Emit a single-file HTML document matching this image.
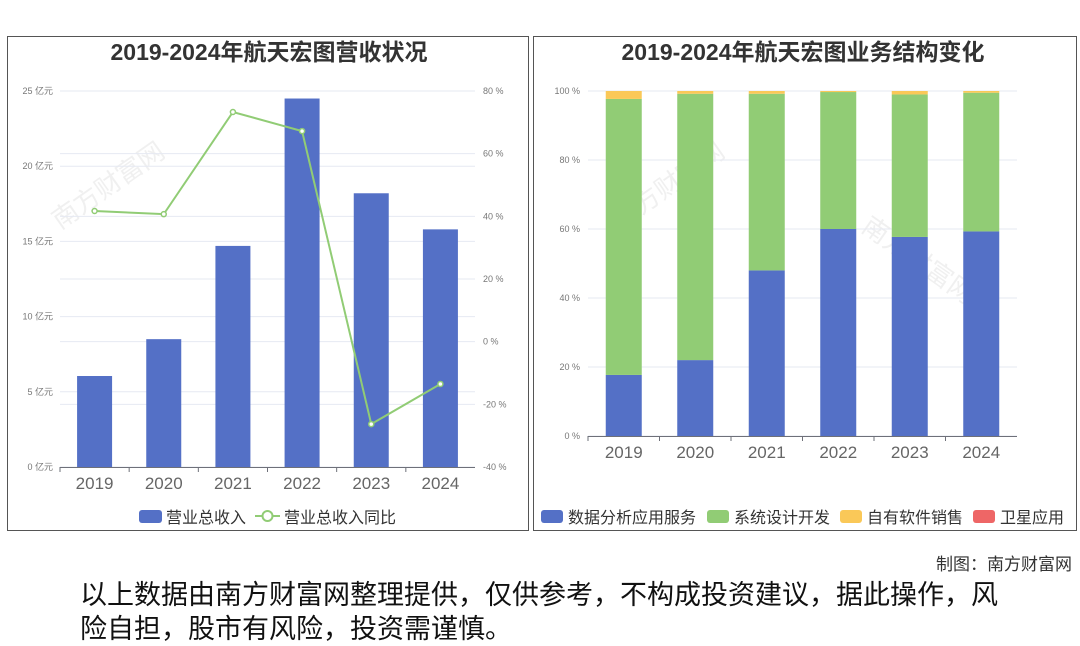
<!DOCTYPE html>
<html><head><meta charset="utf-8"><style>
html,body{margin:0;padding:0;background:#fff;width:1080px;height:646px;overflow:hidden;font-family:"Liberation Sans","Noto Sans CJK SC",sans-serif}
svg{position:absolute;left:0;top:0}
.disc{position:absolute;left:80px;width:960px;top:578px;text-align:left;font-size:27px;line-height:34px;color:#111}
.credit{position:absolute;right:8px;top:550px;font-size:17px;color:#333}
</style></head><body>
<svg id="s" width="1080" height="646"></svg>
<div class="credit">制图：南方财富网</div>
<div class="disc">以上数据由南方财富网整理提供，仅供参考，不构成投资建议，据此操作，风<br>险自担，股市有风险，投资需谨慎。</div>
<script>
const years=['2019','2020','2021','2022','2023','2024'];
const revenue=[6.05,8.5,14.7,24.5,18.2,15.8];
const growth=[41.7,40.7,73.3,67.2,-26.3,-13.5];
const revTicks=[0,5,10,15,20,25];
const pctTicks=[-40,-20,0,20,40,60,80];
const dataSvc=[17.7,22,48,60,57.7,59.3];
const sysDev=[80,77.2,51.2,39.7,41.3,40.2];
const software=[2.3,0.8,0.8,0.3,1,0.5];
const satellite=[0,0,0,0,0,0];
const shareTicks=[0,20,40,60,80,100];

const S=document.getElementById('s');const NS='http://www.w3.org/2000/svg';
function el(t,a,p){const e=document.createElementNS(NS,t);for(const k in a)e.setAttribute(k,a[k]);(p||S).appendChild(e);return e;}
function tx(x,y,s,a,p){const e=el('text',Object.assign({x:x,y:y},a),p);e.textContent=s;return e;}
const F='"Liberation Sans","Noto Sans CJK SC",sans-serif';
const BLUE='#5470c6',GREEN='#91cc75',YEL='#fac858',RED='#ee6666';

let r=el('rect',{x:7.5,y:36.5,width:521,height:494,fill:'none',stroke:'#555'});

r=el('rect',{x:533.5,y:36.5,width:543,height:494,fill:'none',stroke:'#555'});


// faint watermarks
[[60,230,-35],[620,230,-35],[860,230,35]].forEach(([x,y,a])=>{let w=tx(x,y,'南方财富网',{'font-size':26,fill:'#ccc','fill-opacity':0.3,transform:'rotate('+a+' '+x+' '+y+')','font-family':F});});

// ---- left chart
const L={x0:60,x1:475,y0:467,y1:91};
const band=(L.x1-L.x0)/years.length;
const xc=i=>L.x0+band*(i+0.5);
const yRev=v=>L.y0-(v/25)*(L.y0-L.y1);
const yPct=v=>L.y0-((v+40)/120)*(L.y0-L.y1);
let t=tx(269,60,'2019-2024年航天宏图营收状况',{'text-anchor':'middle','font-size':23,'font-weight':'bold',fill:'#333','font-family':F});

revTicks.forEach(v=>{const y=yRev(v);
 let g=el('line',{x1:L.x0,x2:L.x1,y1:y,y2:y,stroke:'#e6e9f2'});
 let l=tx(53,y+3,v+' 亿元',{'text-anchor':'end','font-size':9,fill:'#777','font-family':F});});
pctTicks.forEach(v=>{const y=yPct(v);
 if(v>-40){let g=el('line',{x1:L.x0,x2:L.x1,y1:y,y2:y,stroke:'#e6e9f2'});}
 let l=tx(483,y+3,v+' %',{'font-size':9,fill:'#777','font-family':F});});
revenue.forEach((v,i)=>{const bw=35;
 let b=el('rect',{x:xc(i)-bw/2,y:yRev(v),width:bw,height:L.y0-yRev(v),fill:BLUE});
 });
let ax=el('line',{x1:L.x0,x2:L.x1,y1:L.y0+0.5,y2:L.y0+0.5,stroke:'#6e7079'});
years.forEach((y,i)=>{let tk=el('line',{x1:L.x0+band*i,x2:L.x0+band*i,y1:L.y0,y2:L.y0+5,stroke:'#6e7079'});
 let l=tx(xc(i),489,y,{'text-anchor':'middle','font-size':17,fill:'#666','font-family':F});});
let pl=el('polyline',{points:growth.map((v,i)=>xc(i)+','+yPct(v)).join(' '),fill:'none',stroke:GREEN,'stroke-width':2});

growth.forEach((v,i)=>{let c=el('circle',{cx:xc(i),cy:yPct(v),r:2.5,fill:'#fff',stroke:GREEN,'stroke-width':1.5});});
let lg=el('rect',{x:139,y:510,width:23,height:13,rx:3,fill:BLUE});
t=tx(166,523,'营业总收入',{'font-size':16,fill:'#333','font-family':F});
let ll=el('line',{x1:255,x2:280,y1:516,y2:516,stroke:GREEN,'stroke-width':2});
let lc=el('circle',{cx:267.5,cy:516,r:5,fill:'#fff',stroke:GREEN,'stroke-width':2});
t=tx(284,523,'营业总收入同比',{'font-size':16,fill:'#333','font-family':F});

// ---- right chart
const R={x0:588,x1:1017,y0:436,y1:91};
const band2=(R.x1-R.x0)/years.length;
const xc2=i=>R.x0+band2*(i+0.5);
const yS=v=>R.y0-(v/100)*(R.y0-R.y1);
t=tx(803,60,'2019-2024年航天宏图业务结构变化',{'text-anchor':'middle','font-size':23,'font-weight':'bold',fill:'#333','font-family':F});

shareTicks.forEach(v=>{const y=yS(v);
 let g=el('line',{x1:R.x0,x2:R.x1,y1:y,y2:y,stroke:'#e6e9f2'});
 let l=tx(580,y+3,v+' %',{'text-anchor':'end','font-size':9,fill:'#777','font-family':F});});
const series=[[dataSvc,BLUE,'data-service'],[sysDev,GREEN,'system-dev'],[software,YEL,'software-sales'],[satellite,RED,'satellite-app']];
years.forEach((yr,i)=>{let base=0;const bw=36;
 series.forEach(([arr,col,nm])=>{const v=arr[i];if(v<=0)return;
  let b=el('rect',{x:xc2(i)-bw/2,y:yS(base+v),width:bw,height:yS(base)-yS(base+v),fill:col});
  base+=v;});});
ax=el('line',{x1:R.x0,x2:R.x1,y1:R.y0+0.5,y2:R.y0+0.5,stroke:'#6e7079'});
years.forEach((y,i)=>{let tk=el('line',{x1:R.x0+band2*i,x2:R.x0+band2*i,y1:R.y0,y2:R.y0+5,stroke:'#6e7079'});
 let l=tx(xc2(i),458,y,{'text-anchor':'middle','font-size':17,fill:'#666','font-family':F});});
const legs=[['数据分析应用服务',BLUE,541],['系统设计开发',GREEN,707],['自有软件销售',YEL,840],['卫星应用',RED,973]];
legs.forEach(([n,c,x])=>{let s=el('rect',{x:x,y:510,width:22,height:13,rx:3,fill:c});
 let l=tx(x+27,523,n,{'font-size':16,fill:'#333','font-family':F});});
</script>
</body></html>
